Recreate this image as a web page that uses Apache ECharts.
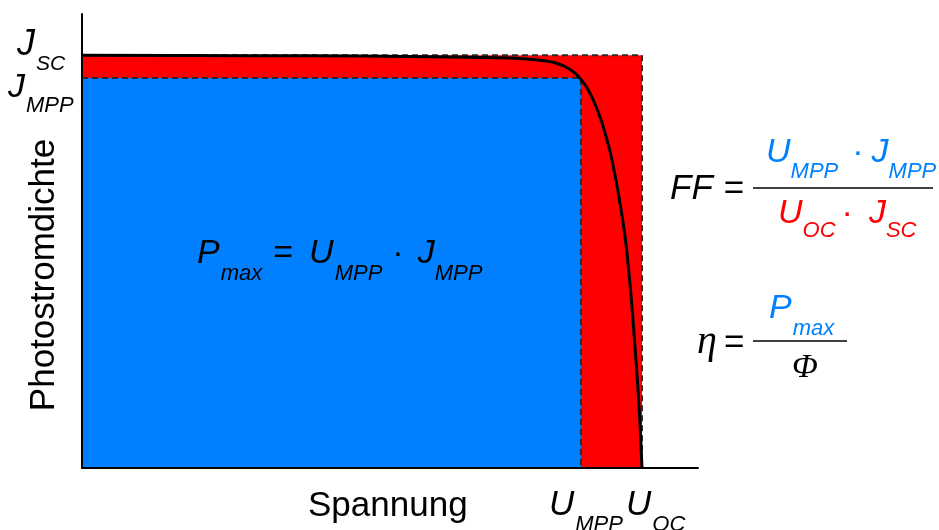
<!DOCTYPE html>
<html>
<head>
<meta charset="utf-8">
<script src="https://cdn.jsdelivr.net/npm/echarts/dist/echarts.min.js"></script>
<style>
html,body{margin:0;padding:0;background:#fff;}
#chart{width:939px;height:530px;}
</style>
</head>
<body>
<div id="chart"></div>
<script>
// ---- data (arbitrary units: U_OC = 1, J_SC = 1) ----
const axisMax = 1.1;
const U_OC = 1.0;
const J_SC = 1.0;
const U_MPP = 0.891;
const J_MPP = 0.945;
const curveU = [0, 0.30, 0.50, 0.657, 0.746, 0.805, 0.845, 0.871, 0.889, 0.907, 0.925, 0.9375, 0.9464, 0.9589, 0.9705, 0.9795, 0.9866, 0.9929, 0.9964, 1.0];
const curveJ = [1.0, 0.999, 0.998, 0.996, 0.994, 0.990, 0.982, 0.966, 0.945, 0.909, 0.8505, 0.795, 0.7463, 0.6567, 0.5525, 0.4313, 0.3102, 0.189, 0.109, 0];

const SANS = '"Liberation Sans", Arial, sans-serif';
const SERIF = '"Liberation Serif", "Times New Roman", serif';
const BLUE = '#0080ff';
const RED = '#ff0000';

const chart = echarts.init(document.getElementById('chart'), null, {renderer: 'canvas'});

const dashStyle = {color: '#2a2a2a', width: 2, type: [6, 4]};

chart.setOption({
  animation: false,
  backgroundColor: '#fff',
  grid: {left: 82, right: 241, top: 14, bottom: 62, containLabel: false, outerBoundsMode: 'none'},
  xAxis: {
    type: 'value', min: 0, max: axisMax, z: 10,
    axisLine: {show: true, lineStyle: {color: '#000', width: 2}},
    axisTick: {show: false}, axisLabel: {show: false}, splitLine: {show: false}
  },
  yAxis: {
    type: 'value', min: 0, max: axisMax, z: 10,
    axisLine: {show: true, lineStyle: {color: '#000', width: 2}},
    axisTick: {show: false}, axisLabel: {show: false}, splitLine: {show: false}
  },
  series: [
    {
      type: 'line', z: 1, symbol: 'none', silent: true,
      data: [[0, J_SC], [U_OC, J_SC], [U_OC, 0]],
      lineStyle: dashStyle,
      areaStyle: {color: RED, opacity: 1}
    },
    {
      type: 'line', z: 2, symbol: 'none', silent: true,
      data: [[0, J_MPP], [U_MPP, J_MPP], [U_MPP, 0]],
      lineStyle: dashStyle,
      areaStyle: {color: BLUE, opacity: 1}
    },
    {
      type: 'line', z: 3, symbol: 'none', silent: true, smooth: 0.3,
      data: curveU.map((u, i) => [u, curveJ[i]]),
      lineStyle: {color: '#000', width: 3}
    }
  ]
});

// ---- text helpers ----
// parts: [text, kind, padL, padR]; kind: 'm' main italic, 's' subscript italic, 'r' regular main
function formula(x, capCenter, parts, M, S, color, D) {
  D = D == null ? 20 : D;
  const rich = {};
  let str = '';
  const P = D + M / 2 - S / 2;
  parts.forEach((p, i) => {
    const [t, kind, pl, pr] = p;
    const name = 't' + i;
    let st;
    if (kind === 's') {
      st = {font: 'italic ' + S + 'px ' + SANS, fill: color, verticalAlign: 'top', padding: [P, pr || 0, 0, pl || 0]};
    } else if (kind === 'm') {
      st = {font: 'italic ' + M + 'px ' + SANS, fill: color, verticalAlign: 'top', padding: [0, pr || 0, 0, pl || 0]};
    } else {
      st = {font: M + 'px ' + SANS, fill: color, verticalAlign: 'top', padding: [0, pr || 0, 0, pl || 0]};
    }
    rich[name] = st;
    str += '{' + name + '|' + t + '}';
  });
  return {
    type: 'text', x: x, y: capCenter - M / 2, z: 100, silent: true,
    style: {text: str, rich: rich, fill: color, font: M + 'px ' + SANS,
            align: 'left', verticalAlign: 'top', textAlign: 'left', textVerticalAlign: 'top'}
  };
}
function plain(x, y, text, font, color, align, rotation) {
  return {
    type: 'text', x: x, y: y, z: 100, silent: true, rotation: rotation || 0,
    style: {text: text, font: font, fill: color, align: align || 'left', verticalAlign: 'middle',
            textAlign: align || 'left', textVerticalAlign: 'middle'}
  };
}
function hline(x1, x2, y) {
  return {type: 'line', z: 100, silent: true, shape: {x1: x1, y1: y, x2: x2, y2: y},
          style: {stroke: '#404040', lineWidth: 2}};
}

const pSC = chart.convertToPixel({gridIndex: 0}, [0, J_SC]);
const pJM = chart.convertToPixel({gridIndex: 0}, [0, J_MPP]);
const pUM = chart.convertToPixel({gridIndex: 0}, [U_MPP, 0]);
const pUO = chart.convertToPixel({gridIndex: 0}, [U_OC, 0]);

const g = [];
// axis value labels
g.push(formula(17, pSC[1] - 10, [['J', 'm'], ['SC', 's', 1, 0]], 36, 21, '#000', 19));
g.push(formula(8, pJM[1] + 10, [['J', 'm'], ['MPP', 's', 1, 0]], 34, 22, '#000', 18));
g.push(formula(pUM[0] - 32, pUM[1] + 37, [['U', 'm'], ['MPP', 's', 1, 0]], 35, 22, '#000'));
g.push(formula(pUO[0] - 16, pUO[1] + 37, [['U', 'm'], ['OC', 's', 1, 0]], 35, 22, '#000'));
// axis titles
g.push(plain(308, 506, 'Spannung', '35px ' + SANS, '#000', 'left'));
g.push(plain(44.5, 275, 'Photostromdichte', '35px ' + SANS, '#000', 'center', Math.PI / 2));
// P_max formula inside blue area
g.push(formula(197, 254, [['P', 'm'], ['max', 's', 1, 0], ['=', 'r', 11, 16], ['U', 'm'], ['MPP', 's', 1, 0], ['·', 'r', 10, 14], ['J', 'm'], ['MPP', 's']], 34, 22, '#000'));
// FF formula
g.push(formula(670, 189, [['FF', 'm'], ['=', 'r', 11, 0]], 35, 22, '#000'));
g.push(hline(753, 933, 188));
g.push(formula(766, 153, [['U', 'm'], ['MPP', 's'], ['·', 'r', 14, 8], ['J', 'm'], ['MPP', 's']], 34, 22, BLUE, 19));
g.push(formula(778, 214, [['U', 'm'], ['OC', 's'], ['·', 'r', 6, 16], ['J', 'm'], ['SC', 's']], 34, 22, RED, 17));
// efficiency formula
g.push(plain(697, 342, 'η', 'italic 40px ' + SERIF, '#000', 'left'));
g.push(plain(724, 343, '=', '35px ' + SANS, '#000', 'left'));
g.push(hline(753, 847, 341));
g.push(formula(769, 309, [['P', 'm'], ['max', 's', 1, 0]], 34, 22, BLUE));
g.push(plain(805, 368, 'Φ', 'italic 34px ' + SERIF, '#000', 'center'));

chart.setOption({graphic: {elements: g}});
</script>
</body>
</html>
